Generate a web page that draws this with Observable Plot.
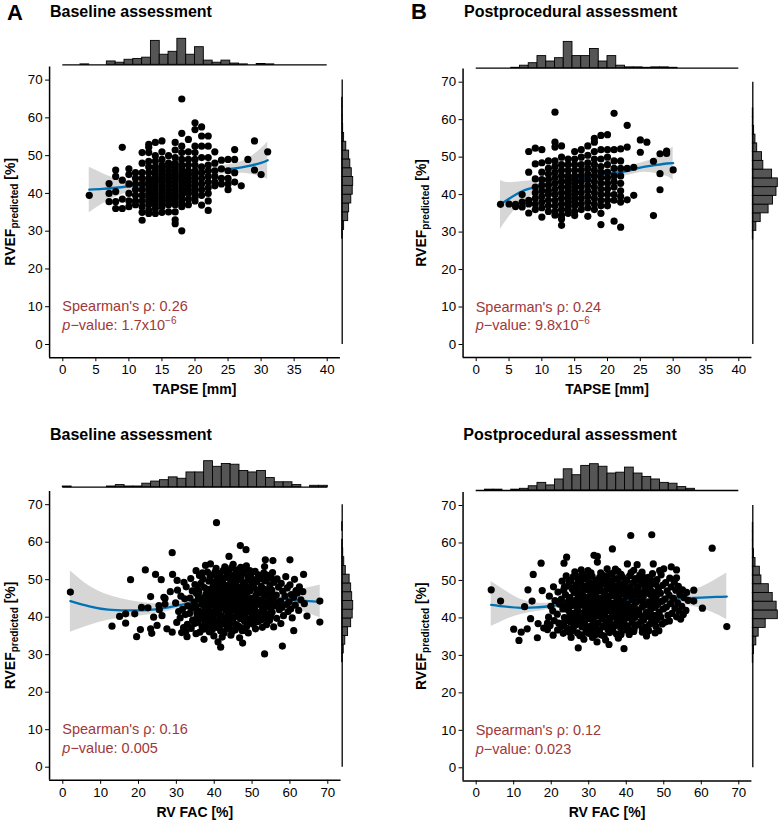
<!DOCTYPE html>
<html>
<head>
<meta charset="utf-8">
<script src="https://cdn.jsdelivr.net/npm/d3@7"></script>
<script src="https://cdn.jsdelivr.net/npm/@observablehq/plot@0.6"></script>
<style>
  body { margin: 0; background: #fff; }
  #fig { position: relative; width: 782px; height: 823px; overflow: hidden; }
  #fig svg { position: absolute; left: 0; top: 0; }
</style>
</head>
<body>
<div id="fig"></div>
<script>
// ---------------- data ----------------
const rvefLimits = [0, 70];
const rvefTicks = [0, 10, 20, 30, 40, 50, 60, 70];
const tapseLimits = [0, 40];
const tapseTicks = [0, 5, 10, 15, 20, 25, 30, 35, 40];
const facLimits = [0, 70];
const facTicks = [0, 10, 20, 30, 40, 50, 60, 70];

// TAPSE (mm) vs RVEF predicted (%), baseline: [TAPSE, list of RVEF values]
const tapseBaselineCols = [
  [4, [39.5]],
  [7, [42.6, 40, 37.8]],
  [8, [46.2, 44.5, 40.5, 37.8, 36]],
  [9, [52.2, 43.5, 38.5, 36]],
  [10, [46.5, 45, 42.5, 40, 38, 36.5]],
  [11, [45.5, 44, 42.5, 41, 39.5, 38, 37]],
  [12, [50.8, 48, 45.5, 44, 42.5, 41, 39.5, 38, 36.5, 35, 32.9]],
  [13, [53, 52.2, 50.8, 48.5, 47, 45.5, 44, 43, 42, 41, 40, 39, 38, 37, 35.5, 34.7]],
  [14, [53.5, 50, 48.5, 47, 46, 45, 44, 43, 42, 41, 40, 39, 38, 37, 36, 34.7]],
  [15, [53.9, 51, 49, 47.5, 46.5, 45.5, 44.5, 43.5, 42.5, 41.5, 40.5, 39.5, 38.5, 37.5, 36.5, 35]],
  [16, [50, 48, 47, 46, 45, 44, 43, 42, 41, 40, 39, 38, 37, 35.1]],
  [17, [53.5, 51.5, 49.5, 48, 47, 46, 45, 44, 43, 42, 41, 40, 39, 38, 37, 35.1, 33, 32]],
  [18, [65, 55.9, 52.5, 50.8, 49, 47.5, 46.5, 45.5, 44.5, 43.5, 42.5, 41.5, 40.5, 39.5, 38.5, 37.5, 36.5, 30.1]],
  [19, [54.3, 51, 49, 47.5, 46, 45, 44, 43, 42, 41, 40, 38.5, 37]],
  [20, [58.7, 56.9, 52.5, 50.8, 49, 47.5, 46, 45, 44, 43, 42, 41, 40, 39, 38]],
  [21, [57.6, 55.2, 52.5, 49.5, 47, 45.5, 44, 42.5, 41, 39.5, 36.9]],
  [22, [55.2, 52.5, 49.5, 47.5, 46, 44.5, 43, 41.5, 40, 38, 35.5]],
  [23, [51, 48, 46, 44.5, 43, 42]],
  [24, [48.8, 46.5, 44, 42.5]],
  [25, [49, 46, 44, 42.5, 41]],
  [26, [51.6, 49, 45.5, 43]],
  [27, [42]],
  [28, [49]],
  [29, [53.9, 46.2]],
  [30, [45]],
  [31, [51]]
];

// TAPSE (mm) vs RVEF predicted (%), postprocedural
const tapsePostCols = [
  [3.7, [37.4]],
  [5, [37.5]],
  [6, [37.4, 36.8]],
  [7, [40, 38, 36.7]],
  [8, [51.5, 46, 38.5, 37.5, 35.1]],
  [9, [52.4, 48.2, 44.2, 42, 40.5, 39, 37.5, 36]],
  [10, [52, 48.5, 46, 44, 42.5, 41, 39.5, 38, 36.5, 34]],
  [11, [49, 47, 45.5, 44, 42.5, 41, 40, 38.5, 37, 35.5]],
  [12, [62, 54, 52.7, 49, 47.5, 46, 44.5, 43, 41.5, 40, 38.5, 37, 35.5, 34.5]],
  [13, [53, 50, 48, 46.5, 45, 43.5, 42, 40.5, 39, 37.5, 36, 34.5, 33.5, 31.8]],
  [14, [49.5, 48, 46.5, 45, 44, 43, 42, 41, 40, 39, 38, 37, 36, 35]],
  [15, [51.5, 49.5, 48, 46.5, 45, 44, 43, 42, 41, 40, 39, 38, 37, 35.5, 34.4]],
  [16, [52, 50, 48, 46.5, 45, 43.5, 42, 40.5, 39, 37.5, 36]],
  [17, [53, 50.5, 48.5, 47, 45.5, 44, 42.5, 41, 39.5, 38, 36.5, 34.2]],
  [18, [55, 54, 51.5, 49.5, 48, 46.5, 45, 43.5, 42, 40.5, 39, 37.5, 36]],
  [19, [55.8, 52, 49.5, 47.5, 46, 44.5, 43, 41.5, 40, 38.5, 37, 35, 32]],
  [20, [56, 52, 50, 48, 46, 44.5, 43, 41.5, 40, 38.5, 37]],
  [21, [61.7, 52, 49, 47, 45, 43.5, 42, 40, 38.5, 32.9]],
  [22, [52.2, 49, 47, 45, 43, 41, 39.5, 38, 31.3]],
  [23, [58.5, 52.7, 47, 38.6]],
  [24, [47.3, 39.8]],
  [25, [54.6, 51.3]],
  [26, [54]],
  [27, [48.9, 34.4]],
  [28, [50.9, 45.6, 41.3]],
  [29, [51.6, 51]],
  [30, [46.6]]
];

// RV FAC (%) vs RVEF predicted (%), baseline: [FAC, RVEF]
const facBaselinePoints = [
  [2.0, 46.7], [13, 37.6], [15, 40.2], [16.6, 40.9], [16.6, 38.4], [17.9, 50], [19.5, 34.8], [20.5, 36.7],
  [21.8, 52.6], [23.2, 45.5], [23.2, 36.9], [23.5, 35.7], [24.5, 51.4], [26, 50], [24.9, 37.8], [27, 45],
  [27, 43.5], [28.9, 57.2], [29, 51.4], [28.4, 46.8], [32, 49.3], [32.8, 34.8], [35.2, 52.4], [37.7, 53.8],
  [39, 54.2], [40.6, 65.2], [41.7, 32], [43.9, 56.2], [46.9, 59.1], [48.4, 58], [47.5, 33.1], [49.4, 52.4],
  [53.3, 30.2], [53.5, 55.3], [55.5, 55.1], [53.3, 53.5], [60, 55.3], [58, 32.3], [61, 36.4], [63.6, 51.4],
  [61.9, 46.4], [64.5, 40.3], [67.9, 44.3], [67.9, 38.7], [24, 40], [25.5, 42], [20.8, 42.6], [19, 40.9],
  [22.5, 42.5], [25.4, 43.1], [26.7, 45.3], [26.2, 40.4], [27.5, 36.9], [28.9, 36], [30.2, 49.8],
  [30.3, 47.2], [29.8, 43.8], [30.6, 41.5], [30.1, 38.6],
  [31.2, 45.6], [31.6, 42.1], [31.0, 39.8], [31.9, 37.2], [31.4, 35.9],
  [32.6, 48.1], [32.2, 44.9], [33.0, 43.0], [32.4, 40.7], [32.9, 38.1], [32.5, 36.2],
  [33.8, 50.3], [34.2, 47.0], [33.6, 45.1], [34.0, 42.4], [33.5, 41.0], [34.3, 39.2], [33.9, 37.0],
  [34.9, 48.7], [35.3, 46.3], [34.7, 44.0], [35.1, 42.9], [35.5, 40.2], [34.8, 38.3], [35.2, 35.6],
  [36.1, 51.1], [36.5, 49.0], [35.9, 46.8], [36.3, 45.2], [36.7, 43.4], [36.0, 41.6], [36.4, 39.7], [36.8, 37.5], [36.2, 36.0],
  [37.0, 50.2], [37.4, 47.9], [37.2, 44.4], [37.6, 42.3], [37.1, 40.8], [37.5, 38.9], [37.3, 34.1],
  [38.2, 52.0], [38.6, 49.6], [38.0, 47.4], [38.4, 45.7], [38.8, 44.1], [38.1, 42.6], [38.5, 40.9], [38.9, 39.3], [38.3, 37.8], [38.7, 36.1],
  [39.4, 51.2], [39.8, 48.5], [39.2, 46.6], [39.6, 44.8], [40.0, 43.2], [39.3, 41.4], [39.7, 39.9], [40.1, 38.4], [39.5, 36.7], [39.9, 35.0],
  [40.5, 53.0], [40.9, 50.4], [40.3, 48.1], [40.7, 46.2], [41.1, 44.6], [40.4, 42.9], [40.8, 41.0], [41.2, 39.1], [40.6, 37.3], [41.0, 33.4],
  [41.6, 51.7], [42.0, 49.6], [41.4, 47.5], [41.8, 45.6], [42.2, 44.0], [41.5, 42.2], [41.9, 40.4], [42.3, 38.7], [41.7, 36.3], [42.1, 34.7],
  [42.8, 53.4], [43.2, 50.7], [42.6, 48.7], [43.0, 46.9], [43.4, 45.1], [42.7, 43.6], [43.1, 41.8], [43.5, 40.1], [42.9, 38.2], [43.3, 36.9],
  [43.9, 52.3], [44.3, 49.9], [43.7, 47.8], [44.1, 46.1], [44.5, 44.3], [43.8, 42.6], [44.2, 40.7], [44.6, 39.0], [44.0, 37.4], [44.4, 35.2],
  [45.0, 54.1], [45.4, 51.3], [44.8, 48.9], [45.2, 47.0], [45.6, 45.4], [44.9, 43.5], [45.3, 41.9], [45.7, 40.2], [45.1, 38.5], [45.5, 36.6],
  [46.2, 52.6], [46.6, 50.1], [46.0, 48.2], [46.4, 46.4], [46.8, 44.7], [46.1, 42.8], [46.5, 41.1], [46.9, 39.6], [46.3, 37.7], [46.7, 34.5],
  [47.3, 51.5], [47.7, 49.2], [47.1, 47.1], [47.5, 45.5], [47.9, 43.9], [47.2, 42.0], [47.6, 40.5], [48.0, 38.9], [47.4, 36.4],
  [48.5, 53.7], [48.9, 50.6], [48.3, 48.4], [48.7, 46.6], [49.1, 44.9], [48.4, 43.1], [48.8, 41.4], [49.2, 39.4], [48.6, 37.6], [49.0, 35.8],
  [49.6, 51.0], [50.0, 48.8], [49.4, 47.0], [49.8, 45.0], [50.2, 43.3], [49.5, 41.7], [49.9, 39.9], [50.3, 38.1],
  [50.8, 52.2], [51.2, 49.5], [50.6, 47.7], [51.0, 45.9], [51.4, 44.2], [50.7, 42.5], [51.1, 40.6], [51.5, 38.8], [50.9, 36.9],
  [52.0, 50.9], [52.4, 48.3], [51.8, 46.5], [52.2, 44.6], [52.6, 42.9], [51.9, 41.2], [52.3, 39.2], [52.7, 37.3],
  [53.1, 51.8], [53.5, 49.7], [52.9, 47.6], [53.3, 45.8], [53.7, 43.7], [53.0, 41.9], [53.4, 40.0], [53.8, 38.0],
  [54.3, 50.4], [54.7, 48.6], [54.1, 46.7], [54.5, 44.5], [54.9, 42.4], [54.2, 40.9], [54.6, 39.1],
  [55.4, 51.9], [55.8, 49.3], [55.2, 47.2], [55.6, 45.1], [56.0, 43.0], [55.3, 41.3], [55.7, 37.4],
  [56.6, 50.2], [57.0, 48.0], [56.4, 45.9], [56.8, 43.8], [57.2, 42.0], [56.5, 39.7],
  [57.7, 49.0], [58.1, 46.9], [57.5, 44.3], [57.9, 42.6], [58.3, 40.4], [57.6, 38.3],
  [58.9, 50.8], [59.3, 47.8], [58.7, 45.6], [59.1, 43.4], [59.5, 41.5],
  [60.0, 48.6], [60.4, 46.0], [59.8, 44.1], [60.2, 42.2], [60.6, 39.8],
  [61.2, 50.1], [61.6, 47.1], [61.0, 45.3], [61.4, 43.2],
  [62.5, 48.1], [62.9, 44.6], [62.3, 41.8], [63.4, 46.8], [63.8, 43.6]
];
// further baseline RV FAC points inside the dense core
const facBaselineCore = [
  [35.6, 47.5], [35.8, 44.9], [35.4, 41.2], [35.7, 38.6],
  [36.9, 51.8], [37.8, 46.1], [37.9, 43.4], [37.7, 40.0], [37.2, 36.8],
  [38.9, 50.6], [39.0, 47.5], [39.1, 45.1], [38.7, 43.0], [39.0, 41.1], [39.2, 38.5],
  [40.2, 52.0], [40.1, 49.3], [40.0, 47.0], [40.2, 45.4], [40.3, 41.7], [40.2, 38.0],
  [41.3, 48.6], [41.4, 46.0], [41.2, 43.3], [41.5, 40.0], [41.4, 37.6],
  [42.4, 52.5], [42.4, 50.2], [42.3, 47.1], [42.5, 44.9], [42.4, 42.9], [42.2, 39.6], [42.6, 35.8],
  [43.5, 51.5], [43.6, 48.4], [43.5, 46.2], [43.4, 43.8], [43.6, 41.5], [43.7, 38.4],
  [44.6, 53.2], [44.7, 50.6], [44.7, 47.9], [44.6, 45.6], [44.8, 42.3], [44.9, 39.8], [44.7, 36.1],
  [45.8, 51.9], [45.9, 49.7], [45.9, 47.1], [45.7, 44.3], [45.9, 42.0], [45.8, 38.0],
  [47.0, 53.3], [47.0, 50.7], [46.9, 48.0], [47.0, 45.9], [46.9, 43.4], [47.1, 40.9], [47.0, 37.2],
  [48.0, 52.1], [48.2, 47.7], [48.1, 45.2], [48.0, 42.6], [48.2, 40.0], [48.1, 36.5],
  [49.3, 49.9], [49.2, 47.8], [49.4, 43.9], [49.3, 42.4], [49.4, 38.5],
  [50.4, 50.0], [50.3, 48.4], [50.5, 44.8], [50.2, 41.4], [50.5, 39.5],
  [51.6, 51.3], [51.5, 47.0], [51.6, 43.5], [51.7, 40.0],
  [52.7, 50.2], [52.6, 47.1], [52.8, 44.2], [52.6, 41.5],
  [53.9, 51.2], [53.9, 47.3], [53.8, 42.8], [54.0, 39.4],
  [55.0, 50.5], [55.0, 46.0], [55.1, 43.8], [54.9, 40.2]
];

// RV FAC (%) vs RVEF predicted (%), postprocedural
const facPostPoints = [
  [4, 47.5], [6.5, 44.5], [11.4, 34], [12.9, 43], [13.8, 47.5], [13.6, 37.1], [14.9, 44.5], [15.2, 51.6],
  [16.3, 34.7], [17.3, 54.6], [17.6, 47.3], [16.5, 38.5], [18, 37.3], [19, 36.9], [19, 38.6], [23.4, 54.6],
  [24.1, 56.2], [27.2, 32], [32.3, 56.4], [32.3, 54.9], [35.4, 32.9], [36.3, 58.4], [39.4, 31.8], [41.2, 62],
  [42.9, 54.2], [46.8, 62.2], [47.2, 54.4], [46, 36.6], [48.7, 36.6], [50, 53.1], [53.4, 52.8], [53.4, 50.7],
  [58, 47.4], [58, 44.5], [60.3, 42.6], [62.9, 58.6], [66.8, 37.7], [10, 37], [12, 36.2], [14.5, 39.8],
  [28, 52.8], [31.4, 56.7], [34.9, 53.1], [37.1, 53.0], [40.3, 54.4], [42, 52.7], [44.2, 52.2], [48.9, 52.6], [52, 53.6],
  [19.5, 45.8], [19.9, 43.1], [19.3, 40.2], [19.7, 38.0],
  [20.6, 48.3], [21.0, 44.6], [20.4, 41.9], [20.8, 39.3], [20.5, 35.4],
  [21.8, 46.9], [22.2, 43.7], [21.6, 41.0], [22.0, 38.6], [21.7, 36.8],
  [22.9, 49.8], [23.3, 47.4], [22.7, 45.0], [23.1, 42.4], [23.5, 40.1], [22.8, 37.7], [23.2, 35.9],
  [24.0, 51.2], [24.4, 48.5], [23.8, 46.2], [24.2, 44.1], [24.6, 42.0], [23.9, 39.5], [24.3, 37.2],
  [25.2, 49.7], [25.6, 47.7], [25.0, 45.4], [25.4, 43.3], [25.8, 41.2], [25.1, 38.9], [25.5, 36.5], [25.3, 34.8],
  [26.3, 52.3], [26.7, 48.9], [26.1, 46.8], [26.5, 44.7], [26.9, 42.6], [26.2, 40.6], [26.6, 38.2], [27.0, 36.0],
  [27.5, 51.0], [27.9, 49.2], [27.3, 47.3], [27.7, 45.2], [28.1, 43.4], [27.4, 41.5], [27.8, 39.4], [28.2, 37.6], [27.6, 35.3],
  [28.6, 50.4], [29.0, 48.1], [28.4, 46.0], [28.8, 44.2], [29.2, 42.3], [28.5, 40.2], [28.9, 38.4], [29.3, 36.6], [28.7, 34.3],
  [29.8, 52.6], [30.2, 49.5], [29.6, 47.5], [30.0, 45.6], [30.4, 43.8], [29.7, 41.9], [30.1, 39.8], [30.5, 37.8], [29.9, 35.9],
  [30.9, 51.1], [31.3, 48.9], [30.7, 46.7], [31.1, 44.9], [31.5, 43.0], [30.8, 41.1], [31.2, 39.1], [31.6, 37.0], [31.0, 34.8],
  [32.1, 50.0], [32.5, 47.9], [31.9, 46.1], [32.3, 44.3], [32.7, 42.4], [32.0, 40.5], [32.4, 38.6], [32.8, 36.3], [32.2, 33.6],
  [33.2, 52.0], [33.6, 49.1], [33.0, 47.2], [33.4, 45.3], [33.8, 43.6], [33.1, 41.7], [33.5, 39.7], [33.9, 37.7], [33.3, 35.5],
  [34.4, 50.6], [34.8, 48.4], [34.2, 46.4], [34.6, 44.6], [35.0, 42.7], [34.3, 40.8], [34.7, 38.9], [35.1, 36.9], [34.5, 34.1],
  [35.5, 51.7], [35.9, 49.6], [35.3, 47.7], [35.7, 45.8], [36.1, 43.9], [35.4, 42.0], [35.8, 40.0], [36.2, 38.2], [35.6, 36.1],
  [36.7, 50.3], [37.1, 48.0], [36.5, 46.0], [36.9, 44.0], [37.3, 42.2], [36.6, 40.3], [37.0, 38.0], [37.4, 35.7],
  [37.8, 52.4], [38.2, 49.2], [37.6, 47.1], [38.0, 45.1], [38.4, 43.3], [37.7, 41.4], [38.1, 39.3], [38.5, 37.3], [37.9, 34.6],
  [39.0, 50.9], [39.4, 48.7], [38.8, 46.5], [39.2, 44.5], [39.6, 42.6], [38.9, 40.7], [39.3, 38.8], [39.7, 36.8],
  [40.1, 49.9], [40.5, 47.8], [39.9, 45.7], [40.3, 43.7], [40.7, 41.8], [40.0, 39.9], [40.4, 37.9], [40.8, 35.6],
  [41.3, 52.1], [41.7, 49.3], [41.1, 47.0], [41.5, 44.9], [41.9, 43.0], [41.2, 41.0], [41.6, 38.7], [42.0, 36.4],
  [42.4, 50.5], [42.8, 48.2], [42.2, 46.3], [42.6, 44.2], [43.0, 42.1], [42.3, 40.1], [42.7, 38.1],
  [43.6, 51.4], [44.0, 49.0], [43.4, 46.8], [43.8, 44.8], [44.2, 42.9], [43.5, 40.9], [43.9, 39.0], [44.3, 37.0],
  [44.7, 49.9], [45.1, 47.6], [44.5, 45.5], [44.9, 43.4], [45.3, 41.4], [44.6, 39.4], [45.0, 37.5], [45.4, 35.2],
  [45.9, 50.8], [46.3, 48.6], [45.7, 46.6], [46.1, 44.3], [46.5, 42.3], [45.8, 40.4], [46.2, 38.3],
  [47.0, 51.8], [47.4, 49.3], [46.8, 47.1], [47.2, 45.0], [47.6, 42.8], [46.9, 40.8], [47.3, 38.7], [47.7, 36.0],
  [48.2, 50.2], [48.6, 47.9], [48.0, 45.8], [48.4, 43.6], [48.8, 41.6], [48.1, 39.5],
  [49.3, 51.5], [49.7, 48.7], [49.1, 46.6], [49.5, 44.4], [49.9, 42.4], [49.2, 40.2], [49.6, 38.4],
  [50.5, 49.4], [50.9, 47.2], [50.3, 45.0], [50.7, 42.9], [51.1, 40.7], [50.4, 38.9],
  [51.6, 50.6], [52.0, 48.3], [51.4, 46.1], [51.8, 43.8], [52.2, 41.2], [51.5, 39.2],
  [52.8, 49.6], [53.2, 47.4], [52.6, 45.2], [53.0, 42.6], [53.4, 40.3],
  [53.9, 48.4], [54.3, 46.2], [53.7, 44.0], [54.1, 41.8], [54.5, 39.7],
  [55.0, 47.5], [55.4, 45.4], [54.8, 43.1], [55.2, 40.9],
  [56.1, 46.8], [56.5, 44.7], [55.9, 42.0]
];
// further postprocedural RV FAC points inside the dense core
const facPostCore = [
  [23.5, 48.2], [23.6, 43.3], [23.4, 38.7],
  [24.7, 50.0], [24.8, 45.3], [24.9, 40.5], [24.8, 36.2],
  [25.9, 51.0], [26.0, 48.0], [25.9, 44.0], [26.0, 39.7], [25.9, 37.4],
  [27.1, 50.3], [27.1, 46.1], [27.2, 44.0], [27.0, 40.4], [27.2, 38.5],
  [28.3, 51.7], [28.2, 47.5], [28.3, 45.1], [28.4, 41.3], [28.3, 39.0], [28.2, 35.5],
  [29.4, 50.9], [29.5, 48.6], [29.4, 44.9], [29.5, 43.0], [29.4, 40.9], [29.5, 37.2],
  [30.6, 52.0], [30.6, 48.1], [30.5, 45.9], [30.7, 42.1], [30.6, 40.0], [30.5, 36.2],
  [31.8, 49.6], [31.7, 47.2], [31.8, 45.0], [31.7, 41.6], [31.9, 38.0], [31.8, 35.6],
  [32.9, 50.8], [32.9, 48.5], [33.0, 44.5], [32.9, 42.9], [33.0, 40.8], [32.9, 36.8],
  [34.0, 51.3], [34.0, 49.7], [34.1, 47.1], [34.0, 43.9], [34.1, 41.8], [34.0, 37.9], [34.1, 35.2],
  [35.2, 50.1], [35.1, 45.2], [35.2, 43.4], [35.3, 39.4], [35.1, 37.6],
  [36.3, 51.9], [36.4, 48.8], [36.3, 47.0], [36.4, 42.9], [36.3, 41.1], [36.4, 36.9],
  [37.5, 50.5], [37.4, 46.4], [37.5, 44.5], [37.4, 40.3], [37.5, 38.8],
  [38.6, 51.6], [38.7, 47.9], [38.6, 43.9], [38.7, 41.9], [38.6, 37.9], [38.6, 35.6],
  [39.8, 49.9], [39.8, 47.2], [39.7, 43.4], [39.8, 41.2], [39.8, 37.7],
  [40.9, 51.2], [40.9, 48.2], [41.0, 45.8], [40.9, 42.6], [41.0, 40.0], [40.9, 36.5],
  [42.1, 49.5], [42.0, 47.1], [42.1, 43.1], [42.0, 41.3], [42.1, 37.1],
  [43.2, 50.1], [43.2, 47.8], [43.2, 45.8], [43.3, 41.8], [43.2, 38.2],
  [44.4, 51.0], [44.3, 46.5], [44.4, 44.1], [44.4, 40.3], [44.3, 36.2],
  [45.5, 49.2], [45.5, 47.2], [45.6, 43.7], [45.5, 41.0], [45.6, 36.9],
  [46.7, 50.0], [46.6, 46.1], [46.6, 43.9], [46.7, 39.8],
  [47.8, 49.0], [47.9, 46.7], [47.8, 44.5], [47.9, 40.7], [47.9, 37.8]
];

// loess fits with 95% band: x, fit, lower, upper
const tapseBaselineSmoothX = [4, 6, 8, 10, 12, 14, 16, 18, 20, 22, 24, 26, 28, 30, 31];
const tapseBaselineFit     = [41.0, 41.2, 41.5, 41.9, 42.4, 43.2, 44.0, 44.8, 45.4, 45.9, 46.2, 46.6, 47.2, 48.1, 48.8];
const tapseBaselineLo      = [34.9, 37.2, 39.0, 40.3, 41.3, 42.3, 43.2, 44.0, 44.5, 44.9, 45.1, 45.3, 45.2, 44.4, 43.7];
const tapseBaselineHi      = [46.9, 45.3, 44.0, 43.5, 43.5, 44.1, 44.8, 45.6, 46.3, 46.9, 47.3, 47.9, 49.2, 51.8, 53.7];

const tapsePostSmoothX = [3.7, 5, 7, 9, 11, 13, 15, 17, 19, 21, 23, 25, 27, 29, 30];
const tapsePostFit     = [37.4, 38.9, 40.9, 42.0, 42.8, 43.5, 44.1, 44.7, 45.3, 45.8, 46.3, 47.2, 47.8, 48.3, 48.4];
const tapsePostLo      = [30.7, 34.0, 37.9, 40.1, 41.6, 42.6, 43.3, 43.9, 44.4, 44.8, 45.1, 45.9, 45.8, 44.9, 43.8];
const tapsePostHi      = [43.8, 43.2, 43.5, 43.8, 44.0, 44.4, 44.9, 45.5, 46.2, 46.8, 47.5, 48.4, 49.6, 51.5, 52.7];

const facBaselineSmoothX = [2, 7, 12, 17, 22, 27, 32, 37, 42, 47, 52, 57, 62, 66, 68];
const facBaselineFit     = [44.3, 42.9, 42.0, 41.8, 41.9, 42.5, 43.4, 44.0, 44.4, 44.6, 44.7, 44.8, 44.5, 44.2, 44.1];
const facBaselineLo      = [36.0, 37.8, 39.2, 39.9, 40.5, 41.4, 42.5, 43.2, 43.6, 43.8, 43.7, 43.1, 41.9, 40.6, 39.8];
const facBaselineHi      = [52.3, 48.3, 45.9, 44.6, 43.8, 43.6, 44.3, 44.8, 45.2, 45.4, 45.7, 46.4, 47.3, 48.1, 48.6];

const facPostSmoothX = [4, 8, 12, 16, 20, 25, 30, 35, 40, 45, 50, 55, 60, 64, 66.8];
const facPostFit     = [43.5, 43.0, 42.7, 42.8, 43.2, 43.7, 44.1, 44.4, 44.6, 44.8, 45.0, 45.2, 45.4, 45.6, 45.7];
const facPostLo      = [37.7, 39.6, 40.9, 41.7, 42.3, 43.0, 43.5, 43.8, 44.0, 44.1, 44.0, 43.6, 42.5, 41.0, 39.6];
const facPostHi      = [49.7, 47.1, 44.9, 44.0, 44.0, 44.3, 44.6, 44.9, 45.2, 45.5, 46.0, 46.8, 48.2, 50.3, 52.0];

// marginal histogram counts, 30 bins across the axis limits
const tapseBaselineHist = [0, 0, 1, 0, 0, 8, 5, 12, 14, 17, 57, 24, 31, 62, 24, 42, 10, 5, 10, 3, 1, 0, 2, 1, 0, 0, 0, 0, 0, 0];
const tapsePostHist     = [0, 0, 0, 0, 1, 6, 12, 29, 16, 24, 63, 29, 29, 46, 16, 29, 6, 2, 2, 1, 2, 2, 1, 0, 0, 0, 0, 0, 0, 0];
const facBaselineHist   = [1, 0, 0, 0, 0, 1, 3, 1, 1, 5, 8, 10, 14, 12, 21, 21, 37, 29, 33, 32, 23, 21, 23, 13, 7, 7, 3, 0, 2, 2];
const facPostHist       = [0, 1, 1, 0, 1, 2, 5, 9, 6, 13, 25, 18, 29, 31, 28, 20, 21, 27, 20, 16, 13, 9, 8, 4, 2, 0, 0, 0, 0, 0];

const rvefHistTapseBaseline = [0, 0, 0, 0, 0, 0, 0, 0, 0, 0, 0, 0, 2, 8, 25, 29, 38, 44, 46, 40, 34, 29, 17, 8, 4, 2, 1, 1, 0, 0];
const rvefHistTapsePost     = [0, 0, 0, 0, 0, 0, 0, 0, 0, 0, 0, 0, 1, 8, 18, 36, 46, 54, 57, 44, 24, 21, 10, 6, 3, 1, 1, 0, 0, 0];
const rvefHistFacBaseline   = [0, 0, 0, 0, 0, 0, 0, 0, 0, 0, 0, 0, 2, 6, 12, 23, 35, 41, 43, 39, 35, 29, 14, 8, 4, 2, 0, 1, 0, 0];
const rvefHistFacPost       = [0, 0, 0, 0, 0, 0, 0, 0, 0, 0, 0, 0, 1, 3, 9, 15, 33, 64, 61, 51, 41, 22, 18, 7, 3, 1, 1, 1, 0, 0];

// Spearman correlation results
const spearmanRho = ["0.26", "0.24", "0.16", "0.12"];
const pValueText  = [["1.7", "−6"], ["9.8", "−6"], ["0.005", null], ["0.023", null]];

// ---------------- helpers ----------------
const W = 782, H = 823;
const FONT = '"Liberation Sans", Arial, Helvetica, sans-serif';
const BLUE = "#0072B5";
const STAT = "#A0383A";

const fromCols = cols => cols.flatMap(([x, ys]) => ys.map(y => [x, y]));
const smoothRows = (xs, fit, lo, hi) => xs.map((x, i) => ({x, fit: fit[i], lo: lo[i], hi: hi[i]}));
function histBins(counts, limits) {
  const step = (limits[1] - limits[0]) / counts.length;
  return counts.map((n, i) => ({a: limits[0] + i * step, b: limits[0] + (i + 1) * step, n, zero: 0}));
}

const panels = [
  {letter: "A", title: "Baseline assessment", xLabel: "TAPSE [mm]", xLimits: tapseLimits, xTicks: tapseTicks,
   points: fromCols(tapseBaselineCols),
   smooth: smoothRows(tapseBaselineSmoothX, tapseBaselineFit, tapseBaselineLo, tapseBaselineHi),
   topHist: tapseBaselineHist, rightHist: rvefHistTapseBaseline, rho: spearmanRho[0], p: pValueText[0]},
  {letter: "B", title: "Postprocedural assessment", xLabel: "TAPSE [mm]", xLimits: tapseLimits, xTicks: tapseTicks,
   points: fromCols(tapsePostCols),
   smooth: smoothRows(tapsePostSmoothX, tapsePostFit, tapsePostLo, tapsePostHi),
   topHist: tapsePostHist, rightHist: rvefHistTapsePost, rho: spearmanRho[1], p: pValueText[1]},
  {letter: null, title: "Baseline assessment", xLabel: "RV FAC [%]", xLimits: facLimits, xTicks: facTicks,
   points: facBaselinePoints.concat(facBaselineCore),
   smooth: smoothRows(facBaselineSmoothX, facBaselineFit, facBaselineLo, facBaselineHi),
   topHist: facBaselineHist, rightHist: rvefHistFacBaseline, rho: spearmanRho[2], p: pValueText[2]},
  {letter: null, title: "Postprocedural assessment", xLabel: "RV FAC [%]", xLimits: facLimits, xTicks: facTicks,
   points: facPostPoints.concat(facPostCore),
   smooth: smoothRows(facPostSmoothX, facPostFit, facPostLo, facPostHi),
   topHist: facPostHist, rightHist: rvefHistFacPost, rho: spearmanRho[3], p: pValueText[3]}
];

// page layout of each panel (pixel positions of the first/last tick on each axis etc.)
const layouts = [
  {x0: 62.3, x1: 326.7, y0: 344.0, y1: 79.6, topBase: 64.3, topMax: 26, rightBase: 341.7, rightMax: 11,
   letterX: 7, letterY: 19.5, titleX: 50, titleY: 17, xTitleY: 394, yTitleX: 15},
  {x0: 475.7, x1: 738.3, y0: 344.0, y1: 81.7, topBase: 67.7, topMax: 26.3, rightBase: 752.3, rightMax: 25,
   letterX: 411, letterY: 18.5, titleX: 464, titleY: 17, xTitleY: 394, yTitleX: 426},
  {x0: 62.3, x1: 327.3, y0: 766.7, y1: 504.2, topBase: 486.7, topMax: 26, rightBase: 341.7, rightMax: 11,
   titleX: 50, titleY: 439.5, xTitleY: 816.7, yTitleX: 15},
  {x0: 475.7, x1: 738.3, y0: 767.3, y1: 505.0, topBase: 490.0, topMax: 26.3, rightBase: 752.3, rightMax: 25,
   titleX: 463.3, titleY: 439.5, xTitleY: 816.7, yTitleX: 426}
];

const fig = document.getElementById("fig");
const baseStyle = {background: "none", overflow: "visible", fontFamily: FONT, color: "black"};

panels.forEach((p, k) => {
  const L = layouts[k];
  const xr = p.xLimits[1] - p.xLimits[0];
  const yr = rvefLimits[1] - rvefLimits[0];
  const xDom = [p.xLimits[0] - 0.05 * xr, p.xLimits[1] + 0.05 * xr];
  const yDom = [rvefLimits[0] - 0.05 * yr, rvefLimits[1] + 0.05 * yr];
  const kx = (L.x1 - L.x0) / xr, ky = (L.y0 - L.y1) / yr;
  const left = L.x0 - 0.05 * xr * kx, right = L.x1 + 0.05 * xr * kx;
  const top = L.y1 - 0.05 * yr * ky, bottom = L.y0 + 0.05 * yr * ky;

  // top marginal histogram
  const topBins = histBins(p.topHist, p.xLimits);
  const topPlot = Plot.plot({
    width: W, height: H, style: baseStyle,
    marginLeft: left, marginRight: W - right,
    marginTop: L.topBase - L.topMax, marginBottom: H - L.topBase,
    x: {domain: xDom, axis: null},
    y: {domain: [0, d3.max(p.topHist)], axis: null},
    marks: [
      Plot.rect(topBins, {x1: "a", x2: "b", y1: "zero", y2: "n", fill: "#555", stroke: "black", strokeWidth: 0.9}),
      Plot.ruleY([0], {x1: topBins[0].a, x2: topBins[topBins.length - 1].b, stroke: "black", strokeWidth: 1.3})
    ]
  });
  fig.append(topPlot);

  // right marginal histogram
  const rightBins = histBins(p.rightHist, rvefLimits);
  const rightPlot = Plot.plot({
    width: W, height: H, style: baseStyle,
    marginLeft: L.rightBase, marginRight: W - L.rightBase - L.rightMax,
    marginTop: top, marginBottom: H - bottom,
    x: {domain: [0, d3.max(p.rightHist)], axis: null},
    y: {domain: yDom, axis: null},
    marks: [
      Plot.rect(rightBins, {y1: "a", y2: "b", x1: "zero", x2: "n", fill: "#555", stroke: "black", strokeWidth: 0.9}),
      Plot.ruleX([0], {y1: rightBins[0].a, y2: rightBins[rightBins.length - 1].b, stroke: "black", strokeWidth: 1.3})
    ]
  });
  fig.append(rightPlot);

  // main scatter panel
  const main = Plot.plot({
    width: W, height: H, style: baseStyle,
    marginLeft: left, marginRight: W - right, marginTop: top, marginBottom: H - bottom,
    x: {domain: xDom},
    y: {domain: yDom},
    marks: [
      Plot.areaY(p.smooth, {x: "x", y1: "lo", y2: "hi", fill: "#999", fillOpacity: 0.4, curve: "natural"}),
      Plot.line(p.smooth, {x: "x", y: "fit", stroke: BLUE, strokeWidth: 2.3, curve: "natural"}),
      Plot.dot(p.points, {x: d => d[0], y: d => d[1], r: 3.6, fill: "black"}),
      Plot.ruleX([xDom[0]], {stroke: "black", strokeWidth: 1.5}),
      Plot.ruleY([yDom[0]], {stroke: "black", strokeWidth: 1.5}),
      Plot.axisX({ticks: p.xTicks, tickSize: 4, tickPadding: 3, fontSize: 13.3, label: null, tickFormat: d => String(d)}),
      Plot.axisY({ticks: rvefTicks, tickSize: 4, tickPadding: 3, fontSize: 13.3, label: null, tickFormat: d => String(d)})
    ]
  });
  fig.append(main);

  const svg = d3.select(main);
  const sx = main.scale("x"), sy = main.scale("y");

  // Spearman annotation
  const ann = svg.append("g").attr("fill", STAT).attr("font-size", 14.5).attr("font-family", FONT)
    .attr("text-anchor", "start");
  ann.append("text").attr("x", sx.apply(0)).attr("y", sy.apply(10)).attr("dy", "0.36em")
    .text(`Spearman's ρ: ${p.rho}`);
  const pv = ann.append("text").attr("x", sx.apply(0)).attr("y", sy.apply(5)).attr("dy", "0.36em");
  pv.append("tspan").attr("font-style", "italic").text("p");
  if (p.p[1]) {
    pv.append("tspan").text(`−value: ${p.p[0]}x10`);
    pv.append("tspan").attr("font-size", 10).attr("dy", -6).text(p.p[1]);
  } else {
    pv.append("tspan").text(`−value: ${p.p[0]}`);
  }

  // titles and axis titles
  const lab = svg.append("g").attr("font-family", FONT).attr("fill", "black").attr("font-weight", "bold")
    .attr("text-anchor", "start");
  if (p.letter) lab.append("text").attr("x", L.letterX).attr("y", L.letterY).attr("font-size", 22).text(p.letter);
  lab.append("text").attr("x", L.titleX).attr("y", L.titleY).attr("font-size", 16).text(p.title);
  lab.append("text").attr("x", (L.x0 + L.x1) / 2).attr("y", L.xTitleY).attr("font-size", 14)
    .attr("text-anchor", "middle").text(p.xLabel);
  const yt = lab.append("text").attr("font-size", 14).attr("text-anchor", "middle")
    .attr("transform", `translate(${L.yTitleX},${(top + bottom) / 2}) rotate(-90)`);
  yt.append("tspan").text("RVEF");
  yt.append("tspan").attr("font-size", 10).attr("dy", 3).text("predicted");
  yt.append("tspan").attr("dy", -3).text(" [%]");
});
</script>
</body>
</html>
